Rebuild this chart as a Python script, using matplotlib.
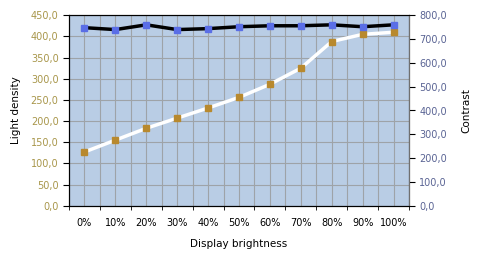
import matplotlib
matplotlib.use("Agg")
import matplotlib.pyplot as plt
import numpy as np

categories = ["0%", "10%", "20%", "30%", "40%", "50%", "60%", "70%", "80%", "90%", "100%"]
light_density = [127, 155, 183, 207, 231, 256, 287, 325, 388, 405, 410]
contrast = [748, 740, 760, 740, 744, 752, 756, 756, 760, 752, 760]
left_ticks = [0, 50, 100, 150, 200, 250, 300, 350, 400, 450]
right_ticks = [0, 100, 200, 300, 400, 500, 600, 700, 800]

plt.rcParams['font.family'] = ['DejaVu Sans']
fig = plt.figure(figsize=(4.85, 2.6), dpi=100)
ax = fig.add_axes([69/485, 1-205.7/260, 340/485, 190.4/260])
ax.set_facecolor('#B9CDE5')
x = np.arange(len(categories))

ax.set_xlim(-0.5, len(categories) - 0.5)
ax.set_ylim(0, 450)
ax.set_yticks(left_ticks)
ax.set_yticklabels([f"{v:.1f}".replace('.', ',') for v in left_ticks], color='#A8964A', fontsize=7)
ax.set_xticks(x)
ax.set_xticklabels(categories, fontsize=7)
ax.set_xticks(np.arange(-0.5, len(categories), 1), minor=True)
ax.tick_params(axis='x', which='major', length=0, pad=9)
ax.tick_params(axis='x', which='minor', length=3)
ax.tick_params(axis='y', length=4, width=0.8)
ax.grid(True, axis='both', which='major', color='#9EA3A8', lw=0.8)
ax.grid(True, axis='x', which='minor', color='#9EA3A8', lw=0.8)
ax.set_axisbelow(True)
for s in ax.spines.values():
    s.set_color('black'); s.set_linewidth(0.8)

ax.plot(x, light_density, color='white', lw=2.5, zorder=3)
ax.plot(x, light_density, ls='none', marker='s', ms=4.5, color='#B8892E', zorder=4)
ax.set_ylabel('Light density', fontsize=7.5, labelpad=7)
ax.set_xlabel('Display brightness', fontsize=7.5, labelpad=8)

ax2 = ax.twinx()
ax2.set_ylim(0, 800)
ax2.set_yticks(right_ticks)
ax2.set_yticklabels([f"{v:.1f}".replace('.', ',') for v in right_ticks], color='#5A6494', fontsize=7)
ax2.tick_params(axis='y', length=4, width=0.8)
for s in ax2.spines.values():
    s.set_color('black'); s.set_linewidth(0.8)
ax2.spines['right'].set_color('#707070')
ax2.plot(x, contrast, color='black', lw=2.5, zorder=3)
ax2.plot(x, contrast, ls='none', marker='s', ms=4.5, color='#5A6EE6', zorder=4)
ax2.set_ylabel('Contrast', fontsize=7.5, labelpad=10)

fig.savefig('out.png', dpi=100)
